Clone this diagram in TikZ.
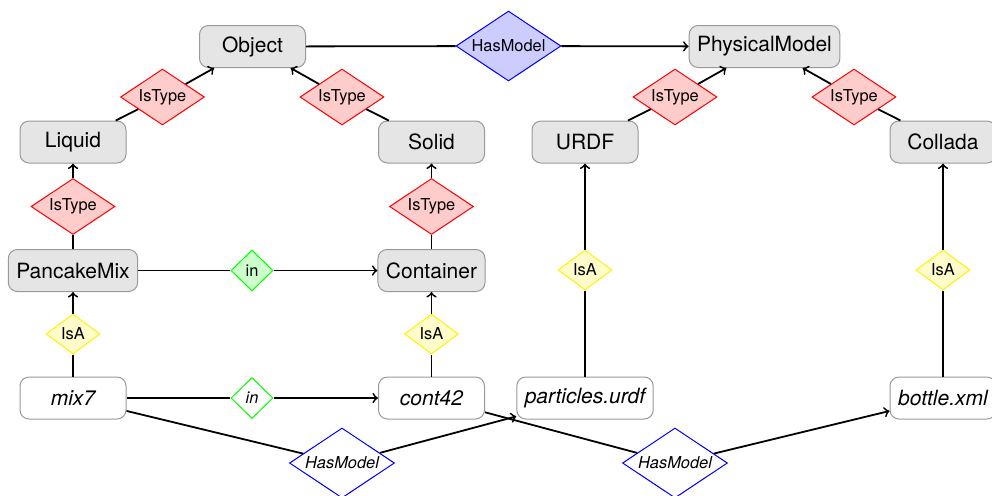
\documentclass[tikz,border=0pt]{standalone}
\usepackage{fontspec}
\setmainfont{TeX Gyre Heros}
\usetikzlibrary{shapes.geometric}

\tikzset{
  concept/.style={draw=black!40, fill=black!10, rounded corners=4.5pt,
    minimum width=53pt, minimum height=21pt, inner xsep=4pt,
    line width=0.5pt, font=\fontsize{10.5}{12}\selectfont},
  instance/.style={concept, fill=white, font=\fontsize{10.5}{12}\selectfont\itshape},
  rel/.style={diamond, shape aspect=1.5, inner sep=0pt, line width=0.5pt,
    font=\fontsize{8.2}{10}\selectfont},
  istype/.style={rel, draw=red, fill=red!20, minimum width=42pt, minimum height=28pt},
  isa/.style={rel, draw=yellow, fill=yellow!20, minimum width=27pt, minimum height=20pt},
  inrel/.style={rel, draw=green, fill=green!20, minimum width=21pt, minimum height=20.5pt},
  hasmodel/.style={rel, draw=blue, fill=blue!20, minimum width=52.5pt, minimum height=35pt},
  inrelinst/.style={inrel, fill=white, font=\fontsize{8.2}{10}\selectfont\itshape},
  hasmodelinst/.style={hasmodel, fill=white, font=\fontsize{8.2}{10}\selectfont\itshape},
  link/.style={line width=0.9pt},
  arr/.style={link, ->},
}

\begin{document}
\begin{tikzpicture}[x=0.5pt, y=-0.5pt]
  \useasboundingbox (0,0) rectangle (992,495);

  % classes
  \node[concept] (obj)  at (252.5,46.5) {Object};
  \node[concept] (pm)   at (764.5,46.5) {PhysicalModel};
  \node[concept] (liq)  at (73,142)     {Liquid};
  \node[concept] (sol)  at (431.5,142)  {Solid};
  \node[concept] (urdf) at (585,142)    {URDF};
  \node[concept] (col)  at (943,142)    {Collada};
  \node[concept] (pan)  at (73,270.5)   {PancakeMix};
  \node[concept] (con)  at (431.5,270.5){Container};

  % instances
  \node[instance] (mix)  at (73,398)    {mix7};
  \node[instance] (cont) at (431.5,398) {cont42};
  \node[instance] (part) at (585,398)   {particles.urdf};
  \node[instance] (bot)  at (943,398)   {bottle.xml};

  % relations
  \node[hasmodel] (hm1) at (508.5,46) {HasModel};
  \node[istype] (it1) at (162.5,97) {IsType};
  \node[istype] (it2) at (342,97)   {IsType};
  \node[istype] (it3) at (675,97)   {IsType};
  \node[istype] (it4) at (854,97)   {IsType};
  \node[istype] (it5) at (73,206.5)   {IsType};
  \node[istype] (it6) at (431.5,206.5){IsType};
  \node[inrel] (in1) at (252,270.5) {in};
  \node[isa] (isa1) at (73,334)    {IsA};
  \node[isa] (isa2) at (431.5,334) {IsA};
  \node[isa] (isa3) at (585,270)   {IsA};
  \node[isa] (isa4) at (943,270)   {IsA};
  \node[inrelinst] (in2) at (252,398) {in};
  \node[hasmodelinst] (hm2) at (342,463) {HasModel};
  \node[hasmodelinst] (hm3) at (675,463) {HasModel};

  % connectors
  \draw[link] (obj) -- (hm1);  \draw[arr] (hm1) -- (pm);
  \draw[link] (liq) -- (it1);  \draw[arr] (it1) -- (obj);
  \draw[link] (sol) -- (it2);  \draw[arr] (it2) -- (obj);
  \draw[link] (urdf) -- (it3); \draw[arr] (it3) -- (pm);
  \draw[link] (col) -- (it4);  \draw[arr] (it4) -- (pm);
  \draw[link] (pan) -- (it5);  \draw[arr] (it5) -- (liq);
  \draw[link] (con) -- (it6);  \draw[arr] (it6) -- (sol);
  \draw[link] (pan) -- (in1);  \draw[arr] (in1) -- (con);
  \draw[link] (mix) -- (isa1); \draw[arr] (isa1) -- (pan);
  \draw[link] (cont) -- (isa2);\draw[arr] (isa2) -- (con);
  \draw[link] (mix) -- (in2);  \draw[arr] (in2) -- (cont);
  \draw[link] (part) -- (isa3);\draw[arr] (isa3) -- (urdf);
  \draw[link] (bot) -- (isa4); \draw[arr] (isa4) -- (col);
  \draw[link] (mix) -- (hm2);  \draw[arr] (hm2) -- (part);
  \draw[link] (cont) -- (hm3); \draw[arr] (hm3) -- (bot);
\end{tikzpicture}
\end{document}
